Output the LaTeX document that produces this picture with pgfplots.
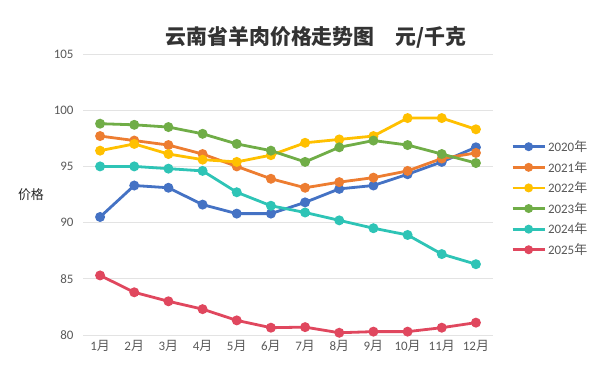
\documentclass[border=0pt]{standalone}
\usepackage{fontspec}
\setmainfont{Carlito}
\newfontfamily\cjk{Noto Sans CJK SC}
\usepackage{pgfplots}
\pgfplotsset{compat=1.18}
\definecolor{c20}{HTML}{4472C4}
\definecolor{c21}{HTML}{ED7D31}
\definecolor{c22}{HTML}{FFC000}
\definecolor{c23}{HTML}{70AD47}
\definecolor{c24}{HTML}{2EC4B6}
\definecolor{c25}{HTML}{E0475E}
\definecolor{gridgray}{HTML}{E3E3E3}
\definecolor{textgray}{HTML}{595959}
\newcommand{\yue}{{\cjk 月}}
\newcommand{\nian}{{\cjk 年}}
\begin{document}
\begin{tikzpicture}[x=1bp,y=1bp]
\path[use as bounding box] (0,0) rectangle (600,369);
\begin{axis}[
  at={(83bp,34bp)}, anchor=south west,
  scale only axis, width=410bp, height=281bp,
  xmin=0.5, xmax=12.5, ymin=80, ymax=105,
  ytick={80,85,...,105},
  xtick={1,...,12},
  xticklabels={1\yue,2\yue,3\yue,4\yue,5\yue,6\yue,7\yue,8\yue,9\yue,10\yue,11\yue,12\yue},
  axis line style={draw=none},
  major tick length=0pt,
  ymajorgrids,
  grid style={color=gridgray, line width=0.9bp},
  tick label style={font=\fontsize{13}{15}\selectfont, text=textgray},
  /pgf/number format/assume math mode=true,
  yticklabel style={xshift=-6bp},
  xticklabel style={yshift=-2bp},
  legend style={at={(1.044,0.70)}, anchor=north west, draw=none, fill=none,
    font=\fontsize{13}{15}\selectfont, text=textgray, row sep=4.2bp,
    inner xsep=0pt, inner ysep=0pt},
  legend cell align=left,
  legend image code/.code={\draw[#1, mark repeat=2, mark phase=2, mark size=3bp] plot coordinates {(0bp,0bp) (16bp,0bp) (32bp,0bp)};},
  every axis plot/.append style={line width=2.8bp, mark=*, mark size=3.5bp},
]
\addplot[c20, mark options={fill=c20}] coordinates {(1,90.5)(2,93.3)(3,93.1)(4,91.6)(5,90.8)(6,90.8)(7,91.8)(8,93.0)(9,93.3)(10,94.3)(11,95.4)(12,96.7)};
\addlegendentry{2020\nian}
\addplot[c21, mark options={fill=c21}] coordinates {(1,97.7)(2,97.3)(3,96.9)(4,96.1)(5,95.0)(6,93.9)(7,93.1)(8,93.6)(9,94.0)(10,94.6)(11,95.7)(12,96.2)};
\addlegendentry{2021\nian}
\addplot[c22, mark options={fill=c22}] coordinates {(1,96.4)(2,97.0)(3,96.1)(4,95.6)(5,95.4)(6,96.0)(7,97.1)(8,97.4)(9,97.7)(10,99.3)(11,99.3)(12,98.3)};
\addlegendentry{2022\nian}
\addplot[c23, mark options={fill=c23}] coordinates {(1,98.8)(2,98.7)(3,98.5)(4,97.9)(5,97.0)(6,96.4)(7,95.4)(8,96.7)(9,97.3)(10,96.9)(11,96.1)(12,95.3)};
\addlegendentry{2023\nian}
\addplot[c24, mark options={fill=c24}] coordinates {(1,95.0)(2,95.0)(3,94.8)(4,94.6)(5,92.7)(6,91.5)(7,90.9)(8,90.2)(9,89.5)(10,88.9)(11,87.2)(12,86.3)};
\addlegendentry{2024\nian}
\addplot[c25, mark options={fill=c25}] coordinates {(1,85.3)(2,83.8)(3,83.0)(4,82.3)(5,81.3)(6,80.65)(7,80.7)(8,80.2)(9,80.3)(10,80.3)(11,80.65)(12,81.1)};
\addlegendentry{2025\nian}
\end{axis}
\node[text=black!85] at (31,174) {\cjk\fontsize{13}{15}\selectfont 价格};
\node[text=black!80] at (316,332) {\cjk\bfseries\fontsize{21}{25}\selectfont 云南省羊肉价格走势图\hspace{1em}元/千克};
\end{tikzpicture}
\end{document}
